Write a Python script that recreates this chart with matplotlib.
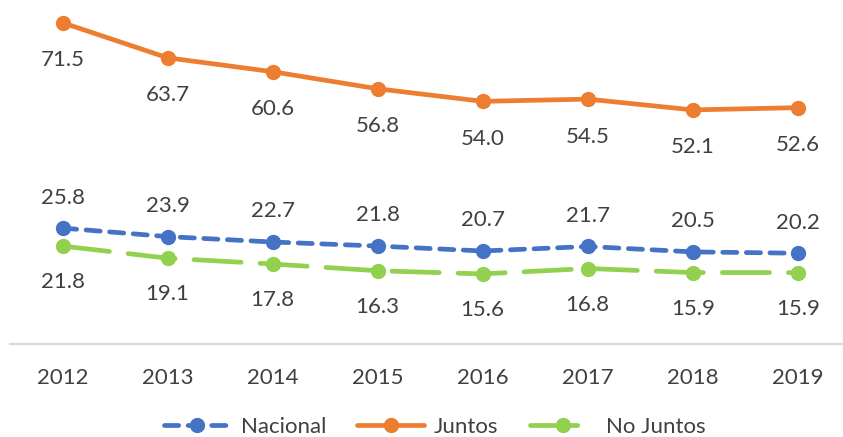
import numpy as np
import matplotlib.pyplot as plt

years = ['2012', '2013', '2014', '2015', '2016', '2017', '2018', '2019']
nacional = [25.8, 23.9, 22.7, 21.8, 20.7, 21.7, 20.5, 20.2]
juntos = [71.5, 63.7, 60.6, 56.8, 54.0, 54.5, 52.1, 52.6]
no_juntos = [21.8, 19.1, 17.8, 16.3, 15.6, 16.8, 15.9, 15.9]

plt.rcParams['font.family'] = ['Lato', 'DejaVu Sans']
txt_color = '#404040'
W, H = 843, 437
fig = plt.figure(figsize=(W / 100, H / 100), dpi=100)
ax = fig.add_axes([10 / W, 93 / H, 833 / W, 337 / H])

x = np.arange(len(years))

ax.plot(x, nacional, color='#4472C4', lw=3.4, marker='o', ms=10,
        dashes=(3.0, 2.0), dash_capstyle='round', label='Nacional')
ax.plot(x, juntos, color='#ED7D31', lw=3.4, marker='o', ms=10,
        solid_capstyle='round', label='Juntos')
ax.plot(x, no_juntos, color='#92D050', lw=3.4, marker='o', ms=10,
        dashes=(10, 4), dash_capstyle='round', label='No Juntos')

# data labels
for i in x:
    ax.annotate(f"{juntos[i]:.1f}", (i, juntos[i]), xytext=(0, -27), textcoords='offset points',
                ha='center', va='center', fontsize=16, color=txt_color)
    ax.annotate(f"{nacional[i]:.1f}", (i, nacional[i]), xytext=(0, 22), textcoords='offset points',
                ha='center', va='center', fontsize=16, color=txt_color)
    ax.annotate(f"{no_juntos[i]:.1f}", (i, no_juntos[i]), xytext=(0, -26), textcoords='offset points',
                ha='center', va='center', fontsize=16, color=txt_color)

ax.set_xlim(-0.5, 7.43)
ax.set_ylim(0, 75)
ax.set_xticks(x)
ax.set_xticklabels(years, fontsize=16, color=txt_color)
ax.tick_params(axis='x', length=0, pad=17)
ax.set_yticks([])
for s in ['top', 'right', 'left']:
    ax.spines[s].set_visible(False)
ax.spines['bottom'].set_color('#D9D9D9')
ax.spines['bottom'].set_linewidth(1.5)

fig.legend(loc='lower center', bbox_to_anchor=(0.516, -0.045), ncol=3, frameon=False,
           fontsize=16, labelcolor=txt_color, handlelength=3.0, columnspacing=1.4, handletextpad=0.45)

fig.savefig('out.png', dpi=100)
